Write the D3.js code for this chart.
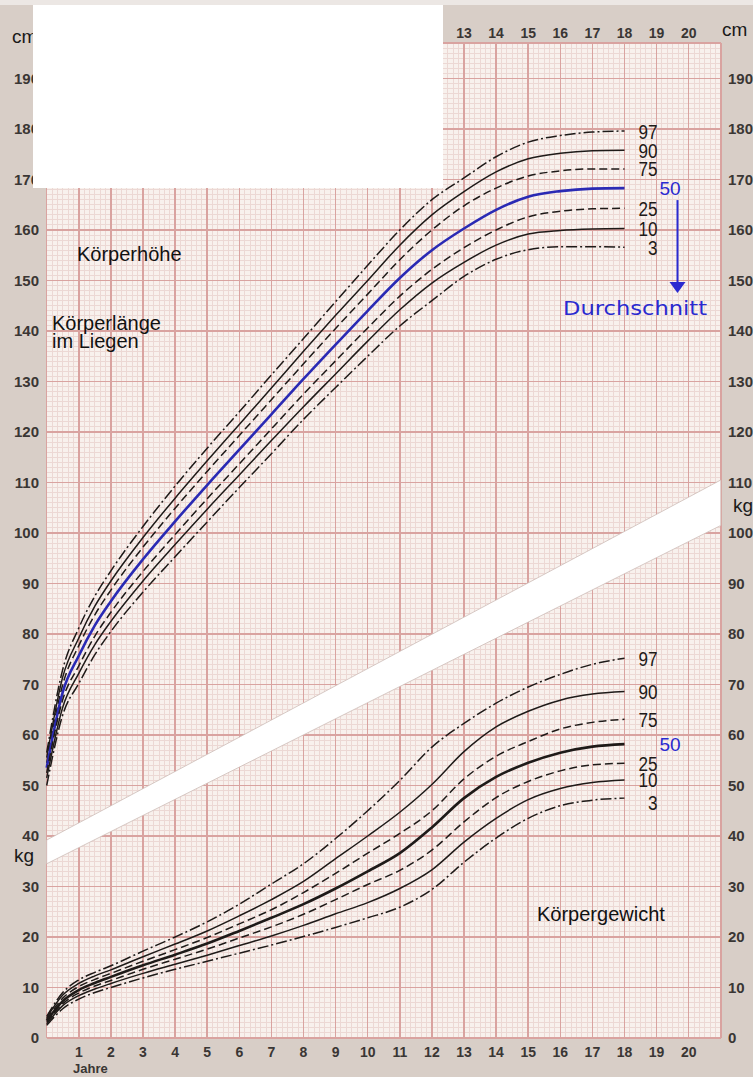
<!DOCTYPE html>
<html>
<head>
<meta charset="utf-8">
<script src="https://cdn.jsdelivr.net/npm/d3@7"></script>
<style>
body { margin: 0; background: #d8cec7; }
svg { display: block; }
text { font-family: "Liberation Sans", Arial, sans-serif; }
</style>
</head>
<body>
<div id="chart"></div>
<script>
var ages = [0, 0.5, 1, 1.5, 2, 3, 4, 5, 6, 7, 8, 9, 10, 11, 12, 13, 14, 15, 16, 17, 18];
var percentiles = ["97", "90", "75", "50", "25", "10", "3"];

// Körperhöhe (cm)
var height_p97 = [56.5, 73, 81.2, 87.5, 92.5, 101.3, 109.3, 116.8, 124, 131.3, 138.5, 145.8, 153, 160, 166, 170.3, 174.5, 177.4, 178.7, 179.4, 179.6];
var height_p90 = [55.5, 71.5, 79.2, 85.5, 90.5, 99.1, 106.9, 114.3, 121.5, 128.7, 136, 143.1, 150, 157, 163, 167.6, 171.5, 174.1, 175.2, 175.7, 175.8];
var height_p75 = [54.5, 70, 77.7, 83.8, 88.7, 97.2, 104.9, 112.2, 119.3, 126.4, 133.5, 140.5, 147.3, 154.1, 160, 164.8, 168.3, 170.7, 171.7, 172.1, 172.1];
var height_p50 = [53.5, 68.5, 75.7, 81.7, 86.5, 94.8, 102.3, 109.5, 116.5, 123.5, 130.5, 137.3, 144, 150.5, 156, 160.3, 164, 166.6, 167.7, 168.2, 168.3];
var height_p25 = [52.5, 67, 73.7, 79.6, 84.3, 92.4, 99.7, 106.8, 113.7, 120.6, 127.5, 134.1, 140.6, 146.9, 152.2, 156.5, 160, 162.6, 163.7, 164.2, 164.3];
var height_p10 = [51.5, 65.5, 72.2, 77.9, 82.5, 90.5, 97.7, 104.7, 111.5, 118.3, 125, 131.5, 138, 144.2, 149.5, 153.6, 157, 159.2, 159.9, 160.2, 160.3];
var height_p3  = [50, 64, 70.2, 75.9, 80.5, 88.3, 95.3, 102.2, 109, 115.7, 122.5, 128.8, 135, 141, 146, 150.8, 154.2, 156.1, 156.7, 156.7, 156.6];

// Körpergewicht (kg)
var weight_p97 = [4.3, 9, 11.5, 13, 14.3, 17.2, 20, 23, 26.5, 30.5, 34.5, 39.5, 45, 51, 57.6, 62.3, 66.3, 69.5, 72, 74, 75.2];
var weight_p90 = [4, 8.5, 10.8, 12.3, 13.5, 16.1, 18.6, 21.2, 24.2, 27.4, 31, 35.5, 40, 44.7, 50.2, 56.7, 61.6, 64.7, 66.9, 68.1, 68.6];
var weight_p75 = [3.7, 7.9, 10.2, 11.6, 12.8, 15.2, 17.5, 19.9, 22.6, 25.4, 28.8, 32.6, 36.6, 40.5, 45, 51.3, 55.8, 58.7, 61.2, 62.5, 63.1];
var weight_p50 = [3.4, 7.3, 9.5, 10.9, 12.1, 14.4, 16.5, 18.7, 21.2, 23.8, 26.5, 29.6, 33, 36.6, 41.7, 47.5, 51.7, 54.5, 56.5, 57.7, 58.2];
var weight_p25 = [3.1, 6.8, 8.9, 10.3, 11.4, 13.6, 15.6, 17.6, 19.8, 22, 24.5, 27.4, 30.4, 33.2, 37.2, 42.8, 47.6, 50.8, 52.9, 54.1, 54.4];
var weight_p10 = [2.8, 6.4, 8.4, 9.7, 10.8, 12.8, 14.6, 16.4, 18.3, 20.2, 22.3, 24.6, 26.8, 29.6, 33.3, 38.8, 43.5, 47.2, 49.4, 50.6, 51.1];
var weight_p3  = [2.5, 5.8, 7.7, 9, 10, 11.9, 13.6, 15.2, 16.8, 18.4, 20.1, 21.9, 23.8, 25.9, 29.4, 34.8, 39.6, 43.5, 46, 47.1, 47.5];

// tick labels
var yearLabels = [1, 2, 3, 4, 5, 6, 7, 8, 9, 10, 11, 12, 13, 14, 15, 16, 17, 18, 19, 20];
var valueLabels = [0, 10, 20, 30, 40, 50, 60, 70, 80, 90, 100, 110, 120, 130, 140, 150, 160, 170, 180, 190];

var heightSeries = [height_p97, height_p90, height_p75, height_p50, height_p25, height_p10, height_p3];
var weightSeries = [weight_p97, weight_p90, weight_p75, weight_p50, weight_p25, weight_p10, weight_p3];

var W = 753, H = 1077;
var svg = d3.select("#chart").append("svg")
    .attr("width", W)
    .attr("height", H);

// the paper: 0..21 years, 0..197 units (cm and kg share one scale)
var xScale = d3.scaleLinear().domain([0, 21]).range([46.7, 720.8]);
var yScale = d3.scaleLinear().domain([0, 197]).range([1038, 43.15]);

svg.append("rect").attr("width", W).attr("height", H).attr("fill", "#d8cec7");
svg.append("rect").attr("width", W).attr("height", 5).attr("fill", "#ece7e4");

svg.append("rect")
    .attr("x", xScale(0)).attr("y", yScale(197))
    .attr("width", xScale(21) - xScale(0))
    .attr("height", yScale(0) - yScale(197))
    .attr("fill", "#f8f1ed");

var grid = svg.append("g").attr("shape-rendering", "crispEdges");

// fine grid: 2 months / 1 unit
var minorX = d3.range(0, 21 * 6 + 1).map(function(i) { return i / 6; });
var minorY = d3.range(0, 198);

function vline(g, a, color, w) {
  g.append("line")
    .attr("x1", xScale(a)).attr("x2", xScale(a))
    .attr("y1", yScale(0)).attr("y2", yScale(197))
    .attr("stroke", color).attr("stroke-width", w);
}
function hline(g, v, color, w) {
  g.append("line")
    .attr("x1", xScale(0)).attr("x2", xScale(21))
    .attr("y1", yScale(v)).attr("y2", yScale(v))
    .attr("stroke", color).attr("stroke-width", w);
}

minorX.forEach(function(a) { vline(grid, a, "#ecd8d4", 1); });
minorY.forEach(function(v) { hline(grid, v, "#ecd8d4", 1); });
d3.range(0, 22).forEach(function(a) { vline(grid, a, "#d9a3a0", 1.5); });
d3.range(0, 200, 10).forEach(function(v) { hline(grid, v, "#d9a3a0", 1.5); });
hline(grid, 197, "#d9a3a0", 1.5);

// white separator band between the two charts
var band = [[0, 39.2], [21, 110.5], [21, 101.5], [0, 34.5]];
svg.append("path")
    .attr("d", "M" + band.map(function(p) { return xScale(p[0]) + "," + yScale(p[1]); }).join("L") + "Z")
    .attr("fill", "#ffffff")
    .attr("stroke", "#cdbcb8")
    .attr("stroke-width", 0.8);

var dashes = {"97": "11,3,2,3", "90": null, "75": "8,4", "50": null, "25": "8,4", "10": null, "3": "11,3,2,3"};

var line_generator = d3.line()
    .x(function(d) { return xScale(d[0]); })
    .y(function(d) { return yScale(d[1]); })
    .curve(d3.curveMonotoneX);

function drawCurves(series, isHeight) {
  var g = svg.append("g").attr("fill", "none");
  series.forEach(function(vals, i) {
    var p = percentiles[i];
    var pts = ages.map(function(a, j) { return [a, vals[j]]; });
    var blue = isHeight && p === "50";
    g.append("path")
      .datum(pts)
      .attr("d", line_generator)
      .attr("stroke", blue ? "#2a2ab4" : "#1e1a18")
      .attr("stroke-width", p === "50" ? 2.6 : 1.5)
      .attr("stroke-dasharray", dashes[p]);
    var yEnd = yScale(vals[vals.length - 1]);
    if (!isHeight && p === "3") yEnd += 4;
    if (p === "50") {
      g.append("text")
        .attr("x", xScale(18) + 35).attr("y", yEnd)
        .attr("dy", "0.36em")
        .attr("fill", "#2a2ad0")
        .style("font-size", "19px")
        .text(p);
    } else {
      // narrow, tall digits
      g.append("text")
        .attr("transform", "translate(" + (xScale(18) + 33) + "," + yEnd + ") scale(0.9,1.1)")
        .attr("dy", "0.36em")
        .attr("text-anchor", "end")
        .attr("fill", "#1e1a18")
        .style("font-size", "19px")
        .text(p);
    }
  });
}
drawCurves(heightSeries, true);
drawCurves(weightSeries, false);

// arrow from the 50 label down to "Durchschnitt"
var ax = xScale(18) + 53;
svg.append("line")
    .attr("x1", ax).attr("x2", ax)
    .attr("y1", yScale(height_p50[height_p50.length - 1]) + 12)
    .attr("y2", 284)
    .attr("stroke", "#2a2ad0").attr("stroke-width", 2);
svg.append("path")
    .attr("d", "M" + (ax - 8) + ",282L" + (ax + 8) + ",282L" + ax + ",293Z")
    .attr("fill", "#2a2ad0");
svg.append("text")
    .attr("x", 563).attr("y", 315)
    .attr("textLength", 144)
    .attr("lengthAdjust", "spacingAndGlyphs")
    .attr("fill", "#2a2ad0")
    .style("font-family", "'DejaVu Sans', sans-serif")
    .style("font-size", "20px")
    .text("Durchschnitt");

// chart titles
var titles = svg.append("g").attr("fill", "#111").style("font-size", "20px");
titles.append("text").attr("x", 77).attr("y", 261).text("Körperhöhe");
titles.append("text").attr("x", 52).attr("y", 330).text("Körperlänge");
titles.append("text").attr("x", 52).attr("y", 348).text("im Liegen");
titles.append("text").attr("x", 537).attr("y", 921).text("Körpergewicht");

// value labels both sides
var axisText = svg.append("g")
    .attr("fill", "#3a3634")
    .style("font-size", "15px")
    .style("font-weight", "bold");
valueLabels.forEach(function(v) {
  axisText.append("text").attr("x", 39).attr("y", yScale(v)).attr("dy", "0.36em")
    .attr("text-anchor", "end").text(v);
  axisText.append("text").attr("x", 728).attr("y", yScale(v)).attr("dy", "0.36em")
    .text(v);
});
yearLabels.forEach(function(a) {
  axisText.append("text").attr("x", xScale(a)).attr("y", 1057)
    .attr("text-anchor", "middle").style("font-size", "14px").text(a);
  axisText.append("text").attr("x", xScale(a)).attr("y", 38)
    .attr("text-anchor", "middle").style("font-size", "14px").text(a);
});
axisText.append("text").attr("x", 73).attr("y", 1073).style("font-size", "13px").text("Jahre");

var unitText = svg.append("g").attr("fill", "#1a1a1a").style("font-size", "19px");
unitText.append("text").attr("x", 12).attr("y", 43).text("cm");
unitText.append("text").attr("x", 722).attr("y", 36).text("cm");
unitText.append("text").attr("x", 14).attr("y", 862).text("kg");
unitText.append("text").attr("x", 733).attr("y", 512).text("kg");

// white label box covering the top left
svg.append("rect")
    .attr("x", 33).attr("y", 5)
    .attr("width", 410).attr("height", 183)
    .attr("fill", "#ffffff");
</script>
</body>
</html>
